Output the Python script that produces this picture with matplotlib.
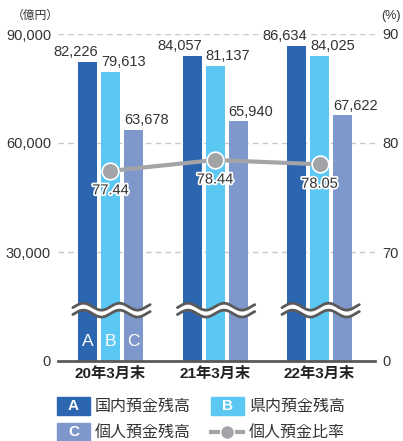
import numpy as np
import matplotlib.pyplot as plt
import matplotlib.patheffects as pe
from matplotlib.patches import Rectangle
from matplotlib.lines import Line2D

plt.rcParams['font.family'] = ['Liberation Sans', 'Noto Sans CJK JP']

categories = ['20年3月末', '21年3月末', '22年3月末']
domestic = [82226, 84057, 86634]     # A 国内預金残高
prefecture = [79613, 81137, 84025]   # B 県内預金残高
personal = [63678, 65940, 67622]     # C 個人預金残高
ratio = [77.44, 78.44, 78.05]        # 個人預金比率
left_ticks = [0, 30000, 60000, 90000]
left_labels = ['0', '30,000', '60,000', '90,000']
right_ticks = [60, 70, 80, 90]
right_labels = ['0', '70', '80', '90']

c_a = '#2d66b0'
c_b = '#5bc8f4'
c_c = '#7f98cb'
c_line = '#a3a4a8'
txt = '#333333'

fig = plt.figure(figsize=(4.03, 4.41), dpi=100)
ax = fig.add_axes([58 / 403, 1 - 361 / 441, 317 / 403, 327 / 441])
x = np.arange(len(categories))
w = 0.182
off = 0.22

ax.set_xlim(-0.502, 2.53)
ax.set_ylim(0, 90000)
for s in ['top', 'right', 'left']:
    ax.spines[s].set_visible(False)
ax.spines['bottom'].set_color('#5a5a5a')
ax.spines['bottom'].set_linewidth(2)
ax.spines['bottom'].set_zorder(5)

for yv in left_ticks[1:]:
    ax.axhline(yv, color='#c8c8c8', lw=1, ls=(0, (4, 3)), zorder=0)

ax.bar(x - off, domestic, w, color=c_a, zorder=2)
ax.bar(x, prefecture, w, color=c_b, zorder=2)
ax.bar(x + off, personal, w, color=c_c, zorder=2)

for i in range(len(categories)):
    ax.annotate(f'{domestic[i]:,}', (x[i] - off + w / 2 + 0.01, domestic[i]), xytext=(0, 2),
                textcoords='offset points', ha='right', va='bottom', fontsize=10.5, color=txt)
    ax.annotate(f'{prefecture[i]:,}', (x[i] - w / 2, prefecture[i]), xytext=(0, 2),
                textcoords='offset points', ha='left', va='bottom', fontsize=10.5, color=txt)
    ax.annotate(f'{personal[i]:,}', (x[i] + off - w / 2, personal[i]), xytext=(0, 2),
                textcoords='offset points', ha='left', va='bottom', fontsize=10.5, color=txt)

for xx, lab in zip([x[0] - off, x[0], x[0] + off], ['A', 'B', 'C']):
    ax.text(xx, 5500, lab, ha='center', va='center', color='white', fontsize=12.5, zorder=4)

# wavy break marks
for c in x:
    xs = np.linspace(c - 0.36, c + 0.38, 200)
    wave = 950 * np.sin((xs - c) / 0.345 * 2 * np.pi)
    ax.fill_between(xs, 14000 + wave - 950, 14000 + wave + 950, color='white', zorder=3, lw=0)
    ax.plot(xs, 14000 + wave + 950, color='#5a5a5a', lw=2, zorder=3, solid_capstyle='round')
    ax.plot(xs, 14000 + wave - 950, color='#5a5a5a', lw=2, zorder=3, solid_capstyle='round')

ax.set_yticks(left_ticks)
ax.set_yticklabels(left_labels)
ax.tick_params(axis='y', length=0, pad=5, labelsize=10.5, labelcolor=txt)
ax.set_xticks(x)
ax.set_xticklabels(categories, fontweight='bold', fontsize=11)
ax.tick_params(axis='x', length=0, pad=4, labelcolor='#222222')

ax2 = ax.twinx()
ax2.set_ylim(60, 90)
for s in ax2.spines.values():
    s.set_visible(False)
ax2.set_yticks(right_ticks)
ax2.set_yticklabels(right_labels)
ax2.tick_params(axis='y', length=0, pad=5, labelsize=10.5, labelcolor=txt)
ax2.plot(x, ratio, color=c_line, lw=3, marker='o', ms=12, mfc=c_line, mec='white', mew=1.2, zorder=5)
for i in range(len(categories)):
    ax2.annotate(f'{ratio[i]:.2f}', (x[i], ratio[i]), xytext=(0, -9), textcoords='offset points',
                 ha='center', va='top', fontsize=10.5, color=txt,
                 path_effects=[pe.withStroke(linewidth=2.5, foreground='white')])

fig.text(12 / 403, 1 - 16 / 441, '（億円）', fontsize=8.5, color=txt, va='center', ha='left')
fig.text(381 / 403, 1 - 16 / 441, '(%)', fontsize=9, color=txt, va='center', ha='left')

# legend
def legend_box(x0, y0, color, letter, label):
    fig.patches.append(Rectangle((x0 / 403, 1 - (y0 + 18) / 441), 33 / 403, 18 / 441,
                                 transform=fig.transFigure, color=color))
    fig.text((x0 + 16.5) / 403, 1 - (y0 + 9) / 441, letter, color='white', fontsize=11,
             fontweight='bold', ha='center', va='center')
    fig.text((x0 + 38) / 403, 1 - (y0 + 9) / 441, label, color=txt, fontsize=11.5,
             ha='left', va='center')

legend_box(57, 397, c_a, 'A', '国内預金残高')
legend_box(211, 397, c_b, 'B', '県内預金残高')
legend_box(57, 423, c_c, 'C', '個人預金残高')
ly = 1 - 432 / 441
fig.lines.append(Line2D([211 / 403, 243 / 403], [ly, ly], transform=fig.transFigure,
                        color=c_line, lw=3))
fig.lines.append(Line2D([227 / 403], [ly], transform=fig.transFigure, color=c_line,
                        marker='o', ms=10, mfc=c_line, mec='white', mew=1))
fig.text(249 / 403, ly, '個人預金比率', color=txt, fontsize=11.5, ha='left', va='center')

fig.savefig('out.png', dpi=100)
